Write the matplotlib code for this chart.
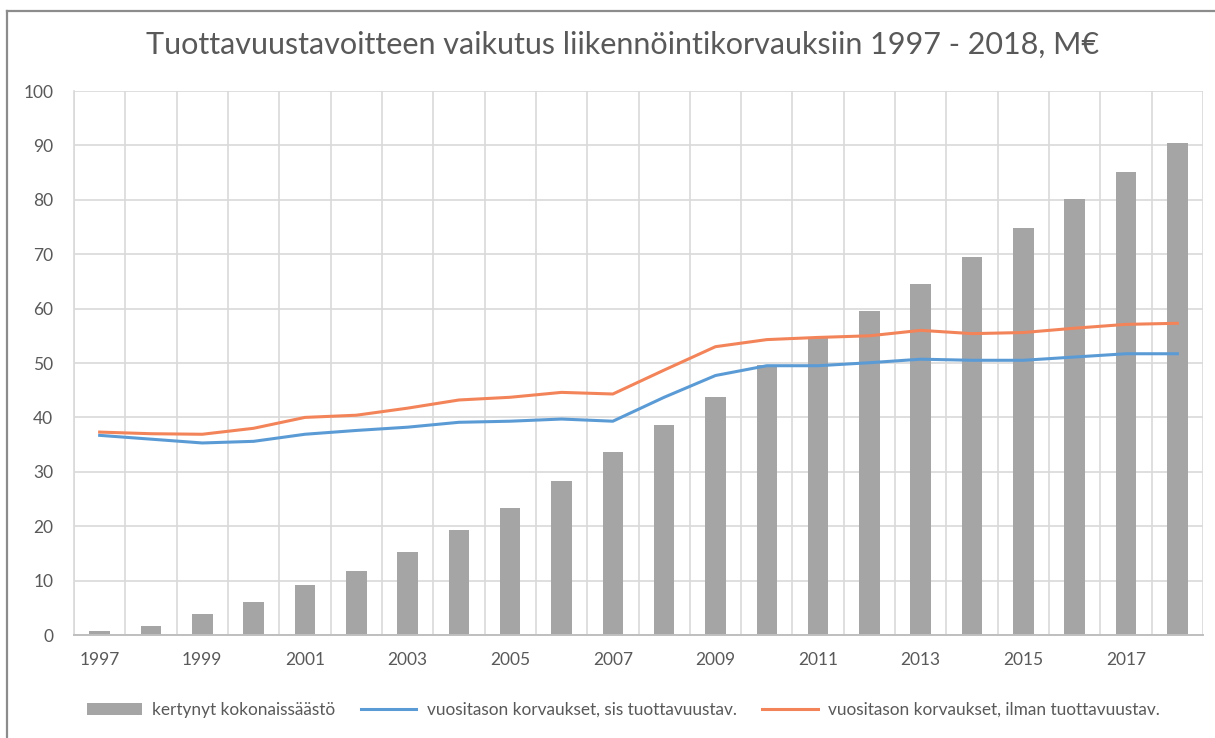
import matplotlib
matplotlib.use("Agg")
import matplotlib.pyplot as plt
from matplotlib.lines import Line2D
import numpy as np

years = list(range(1997, 2019))
tick_labels = [str(y) if (y - 1997) % 2 == 0 else "" for y in years]

savings_total = [0.7, 1.7, 3.8, 6.1, 9.1, 11.7, 15.3, 19.3, 23.3, 28.3, 33.7,
                 38.6, 43.8, 49.6, 54.7, 59.5, 64.6, 69.5, 74.9, 80.2, 85.2, 90.4]
with_target = [36.7, 36.0, 35.3, 35.6, 36.9, 37.6, 38.2, 39.1, 39.3, 39.7, 39.3,
               43.7, 47.7, 49.5, 49.5, 50.05, 50.7, 50.5, 50.5, 51.1, 51.7, 51.7]
without_target = [37.3, 37.0, 36.9, 38.0, 40.0, 40.4, 41.7, 43.2, 43.7, 44.6, 44.3,
                  48.7, 53.0, 54.3, 54.7, 55.0, 56.0, 55.4, 55.6, 56.4, 57.1, 57.3]

title = "Tuottavuustavoitteen vaikutus liikennöintikorvauksiin 1997 - 2018, M€"
series_names = ["kertynyt kokonaissäästö",
                "vuositason korvaukset, sis tuottavuustav.",
                "vuositason korvaukset, ilman tuottavuustav."]

plt.rcParams['font.family'] = ['Lato', 'DejaVu Sans']

W, H = 1215, 738
fig = plt.figure(figsize=(W / 100, H / 100), dpi=100)
fig.patch.set_facecolor("white")

# outer frame (top and left edges visible)
fig.add_artist(Line2D([7 / W, 7 / W], [0, 1 - 10.5 / H], transform=fig.transFigure,
                      color="#8c8c8c", lw=1.6))
fig.add_artist(Line2D([7 / W, 1], [1 - 10.5 / H, 1 - 10.5 / H], transform=fig.transFigure,
                      color="#8c8c8c", lw=1.6))

left, right, top, bottom = 74, 1203, 91, 635
ax = fig.add_axes([left / W, 1 - bottom / H, (right - left) / W, (bottom - top) / H])

x = np.arange(len(years))
bar_color = "#a5a5a6"
blue = "#5b9bd5"
orange = "#f3845a"

b = ax.bar(x, savings_total, width=0.4, color=bar_color, zorder=2, label=series_names[0])
l1, = ax.plot(x, with_target, color=blue, lw=2.2, zorder=3, label=series_names[1])
l2, = ax.plot(x, without_target, color=orange, lw=2.2, zorder=3, label=series_names[2])

ax.set_xlim(-0.5, len(years) - 0.5)
ax.set_ylim(0, 100)
ax.set_yticks(np.arange(0, 101, 10))
ax.set_xticks(x)
ax.set_xticklabels(tick_labels)
ax.set_xticks(np.arange(-0.5, len(years), 1.0), minor=True)

grid_c = "#d9d9d9"
ax.grid(axis="y", which="major", color=grid_c, lw=1.2, zorder=0)
ax.grid(axis="x", which="minor", color=grid_c, lw=1.2, zorder=0)
ax.grid(axis="x", which="major", visible=False)
ax.tick_params(axis="both", which="both", length=0, labelsize=12.5, labelcolor="#595959")
ax.tick_params(axis="y", pad=15)
ax.tick_params(axis="x", pad=12)
for s in ["top", "right"]:
    ax.spines[s].set_visible(False)
ax.spines["left"].set_color(grid_c)
ax.spines["left"].set_linewidth(1.2)
ax.spines["bottom"].set_color("#bfbfbf")
ax.spines["bottom"].set_linewidth(1.4)
ax.set_axisbelow(True)

fig.text(0.512, 1 - 45 / H, title, ha="center", va="center", fontsize=22, color="#595959")

fig.legend([b, l1, l2], series_names, loc="center", bbox_to_anchor=(0.513, 1 - 710 / H), ncol=3,
           frameon=False, fontsize=12.4, handlelength=3.2, handleheight=0.7,
           columnspacing=1.5, handletextpad=0.6, labelcolor="#595959")

fig.savefig("out.png", dpi=100, facecolor="white")
